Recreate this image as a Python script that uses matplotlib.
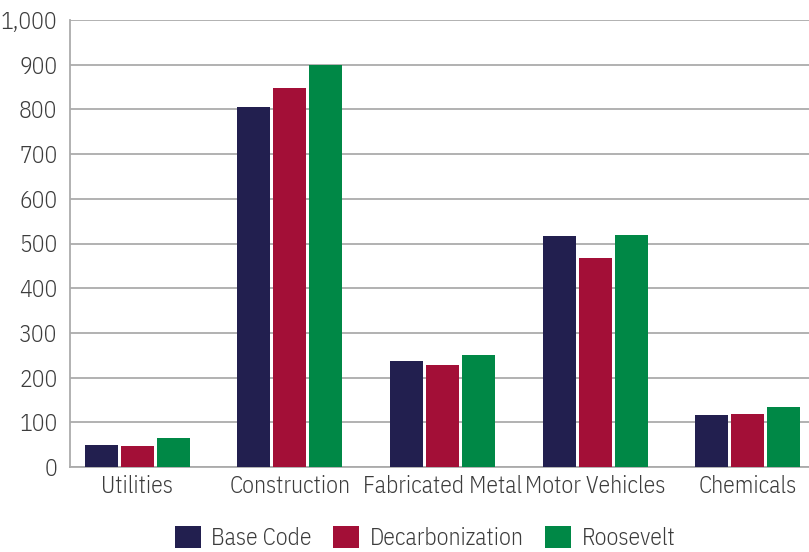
"""Grouped bar chart -- jobs by sector under three scenarios."""

import matplotlib

matplotlib.use("Agg")
import matplotlib.pyplot as plt
import numpy as np

# Data
sectors = ["Utilities", "Construction", "Fabricated Metal", "Motor Vehicles", "Chemicals"]
base_code = [49, 805, 237, 517, 116]
decarbonization = [47, 848, 228, 468, 119]
roosevelt = [65, 899, 250, 519, 134]

series_names = ["Base Code", "Decarbonization", "Roosevelt"]
colors = ["#221F4F", "#A30F37", "#008846"]

plt.rcParams["font.family"] = ["IBM Plex Sans Condensed", "DejaVu Sans"]
plt.rcParams["font.weight"] = 300
text_color = "#3c3c3c"
fs = 17

fig = plt.figure(figsize=(8.09, 5.52), dpi=100)
ax = fig.add_axes([70 / 809, 1 - 467 / 552, 1 - 70 / 809, (467 - 20) / 552])

x = np.arange(len(sectors))
width = 0.216
step = 0.236
for i, (vals, name, col) in enumerate(zip([base_code, decarbonization, roosevelt], series_names, colors)):
    ax.bar(x + (i - 1) * step, vals, width, color=col, label=name, zorder=3)

ax.set_ylim(0, 1000)
ax.set_xlim(-0.44, 4.40)
ax.set_yticks(np.arange(0, 1001, 100))
ax.set_yticklabels([f"{v:,}" for v in range(0, 1001, 100)])
ax.set_xticks(x)
ax.set_xticklabels(sectors)
ax.tick_params(axis="both", length=0, labelsize=fs, colors=text_color)
ax.tick_params(axis="y", pad=9)
ax.tick_params(axis="x", pad=6)

ax.grid(axis="y", color="#ababab", linewidth=1.3, zorder=0)
for side in ("top", "right"):
    ax.spines[side].set_visible(False)
for side in ("left", "bottom"):
    ax.spines[side].set_color("#ababab")
    ax.spines[side].set_linewidth(1.3)

fig.legend(
    loc="center",
    bbox_to_anchor=(425 / 809, 1 - 538 / 552),
    ncol=3,
    frameon=False,
    fontsize=fs,
    handlelength=1.1,
    handleheight=1.1,
    handletextpad=0.45,
    columnspacing=0.9,
    labelcolor=text_color,
)

fig.savefig("out.png", dpi=100)
plt.close(fig)
